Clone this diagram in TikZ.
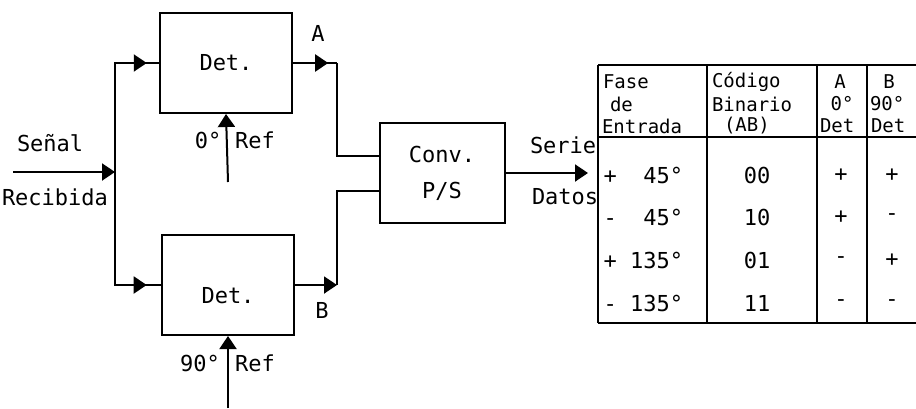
\documentclass[tikz,border=0pt]{standalone}
\usepackage{fontspec}
\newfontfamily\typefont{DejaVu Sans Mono}
\usetikzlibrary{arrows.meta,decorations.markings,positioning}

\tikzset{
  block/.style={draw,minimum width=132pt,minimum height=100pt},
  tip/.style={-{Triangle[length=13pt,width=17pt]}},
  midtip/.style={postaction={decorate},decoration={markings,
      mark=at position #1 with {\arrow{Triangle[length=13pt,width=17pt]}}}},
  headtxt/.style={font=\typefont\fontsize{19}{20}\selectfont,inner sep=0pt},
}

\begin{document}
\begin{tikzpicture}[x=1pt,y=-1pt,line width=2pt,inner sep=1pt,
    font=\typefont\fontsize{22}{24}\selectfont]
\useasboundingbox (0,0) rectangle (916,408);
% detectors and converter
\node[block] (det1) at (226,63) {Det.};
\node[block,label={[yshift=-11pt]center:Det.}] (det2) at (228,285) {};
\node[block,minimum width=125pt,align=center] (conv) at (442,173) {Conv.\\[12pt]P/S};
% free ends
\coordinate (sigin) at (13,172);
\coordinate (split) at (115,172);
\coordinate (ajoin) at (337,63);
\coordinate (bjoin) at (337,285);
\coordinate (dout) at (588,173);
\coordinate (ref1) at (228,182);
\coordinate (ref2) at (228,408);
% wiring
\draw[tip] (sigin) -- (split);
\draw[midtip=0.92] (split) |- (det1.west);
\draw[midtip=0.91] (split) |- (det2.west);
\draw[midtip=0.8] (det1.east) -- (ajoin);
\draw (ajoin) |- ([yshift=17pt]conv.west);
\draw[tip] (det2.east) -- (bjoin);
\draw (bjoin) |- ([yshift=-18pt]conv.west);
\draw[tip] (conv.east) -- (dout);
\draw[tip] (ref1) -- (det1.south);
\draw[tip] (ref2) -- (det2.south);
% labels
\node[anchor=west] (senal) at (15,143) {Señal};
\node[anchor=west] (recib) at (0,197) {Recibida};
\node (labA) at (318,33) {A};
\node (labB) at (322,310) {B};
\node (ph0) at (208,140) {0°};
\node (rf0) at (255,140) {Ref};
\node (ph90) at (200,363) {90°};
\node (rf90) at (255,363) {Ref};
\node[anchor=west] (serie) at (528,145) {Serie};
\node[anchor=west] (datos) at (530,197) {Datos};
% table
\draw (598,65) -- (916,65);
\draw (598,137) -- (916,137);
\draw (598,323) -- (916,323);
\foreach \x in {598,707,817,867} \draw (\x,65) -- (\x,323);
\node[headtxt,anchor=west] (h1a) at (602,82) {Fase};
\node[headtxt,anchor=west] (h1b) at (609,104) {de};
\node[headtxt,anchor=west] (h1c) at (601,126) {Entrada};
\node[headtxt,anchor=west] (h2a) at (711,82) {Código};
\node[headtxt,anchor=west] (h2b) at (711,104) {Binario};
\node[headtxt,anchor=west] (h2c) at (723,126) {(AB)};
\node[headtxt] (h3a) at (840,82) {A};
\node[headtxt] (h3b) at (842,104) {0°};
\node[headtxt,anchor=west] (h3c) at (819,126) {Det};
\node[headtxt] (h4a) at (889,82) {B};
\node[headtxt,anchor=west] (h4b) at (869,104) {90°};
\node[headtxt,anchor=west] (h4c) at (870,126) {Det};
\foreach \y/\fase/\code/\sa/\sb in {175/{+\ \ 45°}/00/+/+,217/{-\ \ 45°}/10/+/-,
    260/{+ 135°}/01/-/+,303/{- 135°}/11/-/-}{
  \node[anchor=east] (fase\y) at (685,\y) {\fase};
  \node (code\y) at (757,\y) {\code};
  \node (sa\y) at (841,\y) {\sa};
  \node (sb\y) at (892,\y) {\sb};
}
\end{tikzpicture}
\end{document}
